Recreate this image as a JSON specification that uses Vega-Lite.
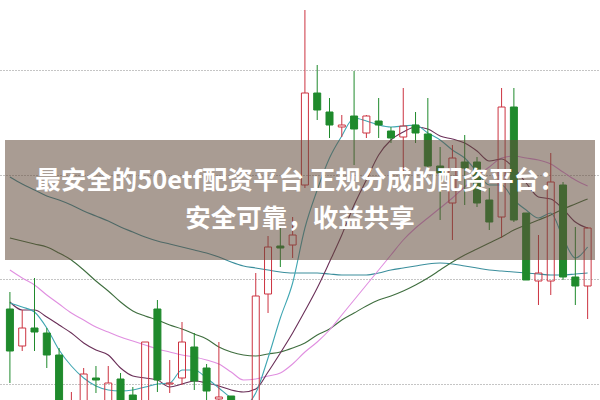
{
  "$schema": "https://vega.github.io/schema/vega-lite/v6.json",
  "width": 600,
  "height": 400,
  "autosize": {"type": "fit", "contains": "padding"},
  "padding": 0,
  "background": "#ffffff",
  "config": {"view": {"stroke": null}},
  "datasets": {
    "candles": [
      {"i":0,"o":2.591,"c":2.549,"h":2.608,"l":2.517,"ma5":2.597,"ma10":2.598,"ma20":2.630,"ma30":2.662,"ma60":2.723},
      {"i":1,"o":2.554,"c":2.572,"h":2.590,"l":2.549,"ma5":2.593,"ma10":2.590,"ma20":2.622,"ma30":2.659,"ma60":2.716},
      {"i":2,"o":2.572,"c":2.568,"h":2.622,"l":2.549,"ma5":2.588,"ma10":2.590,"ma20":2.615,"ma30":2.656,"ma60":2.710},
      {"i":3,"o":2.567,"c":2.545,"h":2.572,"l":2.532,"ma5":2.572,"ma10":2.583,"ma20":2.605,"ma30":2.653,"ma60":2.704},
      {"i":4,"o":2.545,"c":2.490,"h":2.552,"l":2.485,"ma5":2.550,"ma10":2.575,"ma20":2.596,"ma30":2.647,"ma60":2.700},
      {"i":5,"o":2.480,"c":2.495,"h":2.508,"l":2.475,"ma5":2.534,"ma10":2.567,"ma20":2.587,"ma30":2.640,"ma60":2.695},
      {"i":6,"o":2.480,"c":2.526,"h":2.532,"l":2.475,"ma5":2.522,"ma10":2.557,"ma20":2.580,"ma30":2.630,"ma60":2.689},
      {"i":7,"o":2.522,"c":2.520,"h":2.534,"l":2.507,"ma5":2.514,"ma10":2.550,"ma20":2.573,"ma30":2.619,"ma60":2.684},
      {"i":8,"o":2.490,"c":2.517,"h":2.534,"l":2.485,"ma5":2.510,"ma10":2.545,"ma20":2.568,"ma30":2.609,"ma60":2.679},
      {"i":9,"o":2.521,"c":2.490,"h":2.527,"l":2.485,"ma5":2.509,"ma10":2.532,"ma20":2.563,"ma30":2.598,"ma60":2.673},
      {"i":10,"o":2.505,"c":2.490,"h":2.513,"l":2.485,"ma5":2.510,"ma10":2.524,"ma20":2.559,"ma30":2.589,"ma60":2.668},
      {"i":11,"o":2.490,"c":2.558,"h":2.558,"l":2.485,"ma5":2.513,"ma10":2.522,"ma20":2.555,"ma30":2.584,"ma60":2.663},
      {"i":12,"o":2.591,"c":2.520,"h":2.600,"l":2.508,"ma5":2.516,"ma10":2.520,"ma20":2.551,"ma30":2.580,"ma60":2.659},
      {"i":13,"o":2.516,"c":2.517,"h":2.540,"l":2.507,"ma5":2.517,"ma10":2.513,"ma20":2.548,"ma30":2.575,"ma60":2.656},
      {"i":14,"o":2.522,"c":2.558,"h":2.578,"l":2.515,"ma5":2.530,"ma10":2.516,"ma20":2.545,"ma30":2.571,"ma60":2.653},
      {"i":15,"o":2.553,"c":2.519,"h":2.567,"l":2.510,"ma5":2.530,"ma10":2.519,"ma20":2.543,"ma30":2.566,"ma60":2.650},
      {"i":16,"o":2.532,"c":2.509,"h":2.536,"l":2.498,"ma5":2.522,"ma10":2.517,"ma20":2.540,"ma30":2.561,"ma60":2.647},
      {"i":17,"o":2.501,"c":2.503,"h":2.558,"l":2.495,"ma5":2.512,"ma10":2.514,"ma20":2.536,"ma30":2.553,"ma60":2.643},
      {"i":18,"o":2.504,"c":2.490,"h":2.504,"l":2.485,"ma5":2.502,"ma10":2.510,"ma20":2.528,"ma30":2.548,"ma60":2.638},
      {"i":19,"o":2.495,"c":2.485,"h":2.498,"l":2.480,"ma5":2.495,"ma10":2.508,"ma20":2.520,"ma30":2.545,"ma60":2.634},
      {"i":20,"o":2.490,"c":2.604,"h":2.627,"l":2.485,"ma5":2.507,"ma10":2.511,"ma20":2.521,"ma30":2.544,"ma60":2.632},
      {"i":21,"o":2.606,"c":2.653,"h":2.664,"l":2.587,"ma5":2.542,"ma10":2.528,"ma20":2.524,"ma30":2.546,"ma60":2.630},
      {"i":22,"o":2.654,"c":2.652,"h":2.672,"l":2.633,"ma5":2.582,"ma10":2.547,"ma20":2.527,"ma30":2.548,"ma60":2.628},
      {"i":23,"o":2.655,"c":2.665,"h":2.683,"l":2.642,"ma5":2.617,"ma10":2.567,"ma20":2.536,"ma30":2.552,"ma60":2.627},
      {"i":24,"o":2.715,"c":2.807,"h":2.890,"l":2.712,"ma5":2.672,"ma10":2.589,"ma20":2.548,"ma30":2.557,"ma60":2.627},
      {"i":25,"o":2.807,"c":2.790,"h":2.835,"l":2.780,"ma5":2.710,"ma10":2.612,"ma20":2.558,"ma30":2.565,"ma60":2.627},
      {"i":26,"o":2.788,"c":2.775,"h":2.802,"l":2.762,"ma5":2.742,"ma10":2.638,"ma20":2.570,"ma30":2.571,"ma60":2.626},
      {"i":27,"o":2.773,"c":2.775,"h":2.785,"l":2.763,"ma5":2.764,"ma10":2.665,"ma20":2.585,"ma30":2.580,"ma60":2.625},
      {"i":28,"o":2.784,"c":2.771,"h":2.829,"l":2.735,"ma5":2.782,"ma10":2.695,"ma20":2.600,"ma30":2.587,"ma60":2.625},
      {"i":29,"o":2.767,"c":2.784,"h":2.785,"l":2.762,"ma5":2.779,"ma10":2.720,"ma20":2.615,"ma30":2.594,"ma60":2.625},
      {"i":30,"o":2.779,"c":2.775,"h":2.802,"l":2.762,"ma5":2.775,"ma10":2.745,"ma20":2.630,"ma30":2.600,"ma60":2.627},
      {"i":31,"o":2.769,"c":2.762,"h":2.773,"l":2.757,"ma5":2.773,"ma10":2.760,"ma20":2.645,"ma30":2.604,"ma60":2.630},
      {"i":32,"o":2.763,"c":2.774,"h":2.812,"l":2.727,"ma5":2.774,"ma10":2.768,"ma20":2.660,"ma30":2.609,"ma60":2.632},
      {"i":33,"o":2.775,"c":2.767,"h":2.788,"l":2.757,"ma5":2.775,"ma10":2.773,"ma20":2.672,"ma30":2.615,"ma60":2.634},
      {"i":34,"o":2.766,"c":2.734,"h":2.802,"l":2.730,"ma5":2.767,"ma10":2.771,"ma20":2.682,"ma30":2.622,"ma60":2.636},
      {"i":35,"o":2.734,"c":2.727,"h":2.753,"l":2.680,"ma5":2.760,"ma10":2.764,"ma20":2.692,"ma30":2.630,"ma60":2.637},
      {"i":36,"o":2.697,"c":2.742,"h":2.755,"l":2.660,"ma5":2.750,"ma10":2.761,"ma20":2.702,"ma30":2.638,"ma60":2.636},
      {"i":37,"o":2.738,"c":2.732,"h":2.765,"l":2.695,"ma5":2.742,"ma10":2.757,"ma20":2.713,"ma30":2.645,"ma60":2.634},
      {"i":38,"o":2.738,"c":2.697,"h":2.743,"l":2.693,"ma5":2.728,"ma10":2.749,"ma20":2.724,"ma30":2.651,"ma60":2.632},
      {"i":39,"o":2.700,"c":2.678,"h":2.712,"l":2.670,"ma5":2.715,"ma10":2.739,"ma20":2.733,"ma30":2.657,"ma60":2.630},
      {"i":40,"o":2.683,"c":2.793,"h":2.812,"l":2.662,"ma5":2.715,"ma10":2.741,"ma20":2.742,"ma30":2.663,"ma60":2.629},
      {"i":41,"o":2.793,"c":2.680,"h":2.812,"l":2.678,"ma5":2.700,"ma10":2.732,"ma20":2.744,"ma30":2.670,"ma60":2.628},
      {"i":42,"o":2.687,"c":2.620,"h":2.687,"l":2.620,"ma5":2.690,"ma10":2.717,"ma20":2.742,"ma30":2.675,"ma60":2.627},
      {"i":43,"o":2.619,"c":2.627,"h":2.665,"l":2.595,"ma5":2.682,"ma10":2.703,"ma20":2.740,"ma30":2.680,"ma60":2.626},
      {"i":44,"o":2.619,"c":2.718,"h":2.747,"l":2.605,"ma5":2.687,"ma10":2.701,"ma20":2.736,"ma30":2.685,"ma60":2.625},
      {"i":45,"o":2.715,"c":2.623,"h":2.718,"l":2.620,"ma5":2.662,"ma10":2.691,"ma20":2.728,"ma30":2.691,"ma60":2.625},
      {"i":46,"o":2.623,"c":2.614,"h":2.673,"l":2.595,"ma5":2.642,"ma10":2.678,"ma20":2.720,"ma30":2.696,"ma60":2.626},
      {"i":47,"o":2.614,"c":2.672,"h":2.673,"l":2.581,"ma5":2.653,"ma10":2.672,"ma20":2.714,"ma30":2.701,"ma60":2.627}
    ]
  },
  "data": {"name": "candles"},
  "layer": [
    {
      "transform": [{"fold": ["ma60", "ma30", "ma20", "ma10", "ma5"], "as": ["ma", "p"]}],
      "mark": {"type": "line", "strokeWidth": 1.1, "clip": true, "interpolate": "monotone"},
      "encoding": {
        "x": {"field": "i", "type": "quantitative", "scale": {"domain": [-0.4, 47.6], "nice": false, "zero": false}, "axis": null},
        "y": {"field": "p", "type": "quantitative", "scale": {"domain": [2.5, 2.9], "nice": false, "zero": false},
              "axis": {"grid": true, "values": [2.516, 2.621, 2.725, 2.830], "gridColor": "#8a8a8a", "gridDash": [1, 2], "gridWidth": 1, "labels": false, "ticks": false, "domain": false, "title": null}},
        "color": {"field": "ma", "type": "nominal", "legend": null,
                  "scale": {"domain": ["ma5", "ma10", "ma20", "ma30", "ma60"], "range": ["#3fa6b2", "#6a2f58", "#e08fe0", "#3f6e3f", "#3a8e9c"]}},
        "detail": {"field": "ma"}
      }
    },
    {
      "transform": [{"filter": "datum.c <= datum.o"}],
      "mark": {"type": "rule", "color": "#1f8a2c", "strokeWidth": 1, "clip": true},
      "encoding": {
        "x": {"field": "i", "type": "quantitative"},
        "y": {"field": "h", "type": "quantitative"},
        "y2": {"field": "l"}
      }
    },
    {
      "transform": [{"filter": "datum.c > datum.o"}],
      "mark": {"type": "rule", "color": "#cc3340", "strokeWidth": 1, "clip": true},
      "encoding": {
        "x": {"field": "i", "type": "quantitative"},
        "y": {"field": "h", "type": "quantitative"},
        "y2": {"field": "c"}
      }
    },
    {
      "transform": [{"filter": "datum.c > datum.o"}],
      "mark": {"type": "rule", "color": "#cc3340", "strokeWidth": 1, "clip": true},
      "encoding": {
        "x": {"field": "i", "type": "quantitative"},
        "y": {"field": "o", "type": "quantitative"},
        "y2": {"field": "l"}
      }
    },
    {
      "mark": {"type": "bar", "width": 7, "strokeWidth": 1, "clip": true},
      "encoding": {
        "x": {"field": "i", "type": "quantitative"},
        "y": {"field": "o", "type": "quantitative"},
        "y2": {"field": "c"},
        "fill": {"condition": {"test": "datum.c > datum.o", "value": "rgba(255,255,255,0)"}, "value": "#1f8a2c"},
        "stroke": {"condition": {"test": "datum.c > datum.o", "value": "#cc3340"}, "value": "#1f8a2c"}
      }
    },
    {
      "data": {"values": [{"band": "overlay"}]},
      "mark": {"type": "rect", "color": "#634a3a", "opacity": 0.55},
      "encoding": {
        "x": {"datum": -0.4},
        "x2": {"datum": 47.6},
        "y": {"datum": 2.760},
        "y2": {"datum": 2.640}
      }
    },
    {
      "data": {"values": [{"t": "最安全的50etf配资平台 正规分成的配资平台："}]},
      "mark": {"type": "text", "font": "Noto Sans CJK SC", "fontWeight": "bold", "fontSize": 25.5, "color": "#ffffff", "align": "center", "baseline": "middle"},
      "encoding": {
        "x": {"datum": 23.6},
        "y": {"datum": 2.719},
        "text": {"field": "t"}
      }
    },
    {
      "data": {"values": [{"t": "安全可靠，收益共享"}]},
      "mark": {"type": "text", "font": "Noto Sans CJK SC", "fontWeight": "bold", "fontSize": 25.5, "color": "#ffffff", "align": "center", "baseline": "middle"},
      "encoding": {
        "x": {"datum": 23.6},
        "y": {"datum": 2.681},
        "text": {"field": "t"}
      }
    }
  ]
}
